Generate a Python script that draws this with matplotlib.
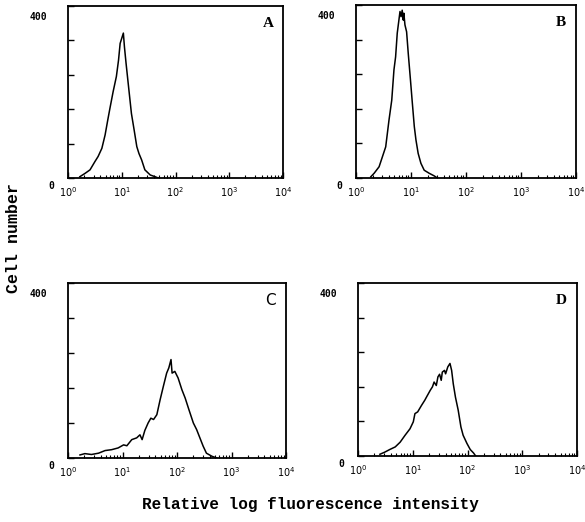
import numpy as np
import matplotlib
matplotlib.use("Agg")
import matplotlib.pyplot as plt
from matplotlib.ticker import FixedLocator, LogLocator, NullFormatter
from matplotlib.transforms import ScaledTranslation

# log10 fluorescence channel positions and cell counts
log_a = [0.22, 0.32, 0.41, 0.50, 0.56, 0.63, 0.69, 0.74, 0.78, 0.84, 0.90, 0.94, 0.97, 1.00,
         1.03, 1.05, 1.08, 1.12, 1.18, 1.23, 1.28, 1.32, 1.37, 1.43, 1.53, 1.62, 1.68]
cnt_a = [3, 11, 19, 38, 50, 69, 100, 135, 162, 201, 236, 274, 313, 325,
         337, 305, 267, 220, 150, 112, 73, 57, 42, 19, 7, 3, 0]

log_b = [0.27, 0.33, 0.42, 0.48, 0.54, 0.60, 0.65, 0.69, 0.72, 0.75, 0.78, 0.80, 0.82, 0.84,
         0.86, 0.87, 0.89, 0.92, 0.95, 0.99, 1.02, 1.06, 1.09, 1.13, 1.18, 1.24, 1.33, 1.42, 1.48]
cnt_b = [3, 11, 26, 49, 72, 134, 180, 250, 280, 335, 365, 385, 373, 388,
         365, 381, 354, 338, 288, 227, 180, 119, 88, 57, 34, 18, 11, 5, 0]

log_c = [0.22, 0.31, 0.43, 0.56, 0.68, 0.80, 0.92, 1.02, 1.08, 1.17, 1.26, 1.32, 1.36, 1.41,
         1.47, 1.52, 1.57, 1.63, 1.69, 1.75, 1.81, 1.85, 1.89, 1.91, 1.96, 2.02, 2.09, 2.15,
         2.22, 2.30, 2.36, 2.42, 2.48, 2.54, 2.64, 2.73]
cnt_c = [7, 10, 8, 11, 17, 19, 23, 30, 28, 42, 46, 53, 42, 63,
         80, 91, 88, 99, 133, 164, 194, 206, 225, 194, 198, 183, 156, 137,
         110, 80, 65, 46, 27, 11, 4, 0]

log_d = [0.40, 0.49, 0.58, 0.68, 0.77, 0.86, 0.95, 1.01, 1.04, 1.09, 1.16, 1.22, 1.25, 1.32,
         1.36, 1.39, 1.43, 1.46, 1.49, 1.52, 1.54, 1.58, 1.60, 1.64, 1.68, 1.71, 1.74, 1.78,
         1.83, 1.88, 1.92, 1.99, 2.05, 2.11, 2.15]
cnt_d = [4, 9, 15, 21, 32, 48, 63, 79, 98, 102, 117, 129, 136, 152,
         160, 171, 163, 183, 189, 175, 194, 198, 190, 206, 214, 198, 167, 136,
         106, 67, 48, 29, 15, 7, 0]

letters = ['A', 'B', 'C', 'D']
letter_fonts = ['Liberation Serif', 'Liberation Serif', 'DejaVu Sans', 'Liberation Serif']
decades = [0, 1, 2, 3, 4]
y_ticks = [0, 80, 160, 240, 320, 400]

plt.rcParams['mathtext.fontset'] = 'custom'
plt.rcParams['mathtext.rm'] = 'DejaVu Sans Mono:bold'

fig = plt.figure(figsize=(5.85, 5.22), dpi=100)
W, H = 585, 522
# panel frames in pixels: left, top, right, bottom
boxes = [(68, 6, 283, 178), (356, 5, 576, 178), (68, 283, 286, 458), (358, 283, 577, 456)]
data = [(log_a, cnt_a), (log_b, cnt_b), (log_c, cnt_c), (log_d, cnt_d)]
# pixel nudges for the "0" and "400" labels
nudge = {'0': (-5, -7), '400': (-12, -10)}

for (l, t, r, b), (lx, cy), let, lf in zip(boxes, data, letters, letter_fonts):
    ax = fig.add_axes([l / W, (H - b) / H, (r - l) / W, (b - t) / H])
    ax.plot(10 ** np.array(lx), cy, color='black', lw=1.1)
    ax.set_xscale('log')
    ax.set_xlim(1, 1e4)
    ax.set_ylim(0, 400)
    ax.xaxis.set_major_locator(FixedLocator([10.0 ** d for d in decades]))
    ax.set_xticklabels([r'$\mathregular{10^{%d}}$' % d for d in decades])
    ax.xaxis.set_minor_locator(LogLocator(base=10, subs=np.arange(2, 10)))
    ax.xaxis.set_minor_formatter(NullFormatter())
    ax.yaxis.set_major_locator(FixedLocator(y_ticks))
    ax.set_yticklabels(['0', '', '', '', '', '400'])
    ax.tick_params(axis='both', which='major', direction='in', length=4, width=1.0,
                   labelsize=7, pad=5)
    ax.tick_params(axis='x', which='minor', direction='in', length=2.5, width=0.8)
    ax.tick_params(axis='y', labelsize=7, pad=6)
    for lab in ax.get_yticklabels():
        lab.set_family('DejaVu Sans Mono')
        lab.set_weight('bold')
        dx, dy = nudge.get(lab.get_text(), (0, 0))
        lab.set_transform(lab.get_transform() + ScaledTranslation(dx / 100, dy / 100, fig.dpi_scale_trans))
    for sp in ax.spines.values():
        sp.set_linewidth(1.3)
    ax.text(0.93, 0.9, let, transform=ax.transAxes, ha='center', va='center',
            fontsize=11, family=lf, fontweight='bold' if lf != 'DejaVu Sans' else 'normal')

fig.text(14 / W, 1 - 238 / H, 'Cell number', rotation=90, ha='center', va='center',
         family='Liberation Mono', fontweight='bold', fontsize=12)
fig.text(310 / W, 1 - 505 / H, 'Relative log fluorescence intensity', ha='center', va='center',
         family='Liberation Mono', fontweight='bold', fontsize=11.5)

fig.savefig('out.png', dpi=100)
